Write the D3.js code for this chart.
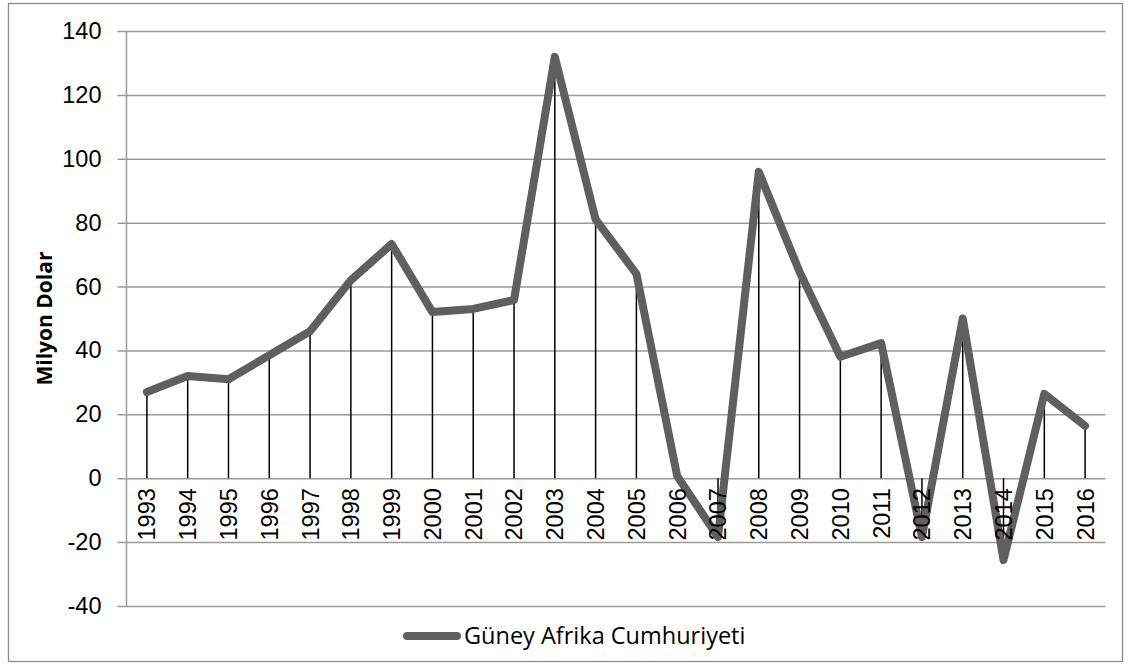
<!DOCTYPE html>
<html><head><meta charset="utf-8">
<script src="https://cdn.jsdelivr.net/npm/d3@7"></script>
<style>body{margin:0;background:#fff;} svg{display:block;font-family:"Open Sans",sans-serif;}</style>
</head><body>
<svg id="c" width="1131" height="666"></svg>
<script>
const years = ["1993","1994","1995","1996","1997","1998","1999","2000","2001","2002","2003","2004","2005","2006","2007","2008","2009","2010","2011","2012","2013","2014","2015","2016"];
const values = [27,32,31,38.5,46,62,73.3,52,53,55.8,131.9,81,64,0.7,-18.4,95.9,64.6,38,42.3,-18.4,50,-25.6,26.4,16.4];
const yTicks = [-40,-20,0,20,40,60,80,100,120,140];
const seriesName = "Güney Afrika Cumhuriyeti";
const yTitle = "Milyon Dolar";

const FS = 23.5;
const svg = d3.select("#c");
const m = {l:126.5, r:1105.5, t:31, b:606};
svg.append("rect").attr("x",8.5).attr("y",3.5).attr("width",1114).attr("height",658)
  .attr("fill","none").attr("stroke","#8c8c8c").attr("stroke-width",1.3);

const x = d3.scaleBand().domain(years).range([m.l,m.r]);
const y = d3.scaleLinear().domain([-40,140]).range([m.b,m.t]);

// gridlines + y ticks
const ya = d3.axisLeft(y).tickValues(yTicks).tickFormat(d=>String(d)).tickSize(-(m.r-m.l)).tickSizeOuter(0).tickPadding(25);
const gy = svg.append("g").attr("transform",`translate(${m.l},0)`).call(ya);
gy.select(".domain").remove();
gy.selectAll(".tick line").attr("stroke","#9a9a9a").attr("stroke-width",1.5).attr("x1",-9);
gy.selectAll(".tick text").attr("font-size",FS).attr("fill","#000");
svg.append("line").attr("x1",m.l).attr("x2",m.l).attr("y1",m.t).attr("y2",m.b).attr("stroke","#9a9a9a").attr("stroke-width",1.5);

// drop lines
svg.append("g").selectAll("line").data(values).join("line")
  .attr("x1",(d,i)=>x(years[i])+x.bandwidth()/2).attr("x2",(d,i)=>x(years[i])+x.bandwidth()/2)
  .attr("y1",d=>y(d)).attr("y2",y(0)).attr("stroke","#000").attr("stroke-width",1.5);

// line
const line = d3.line().x((d,i)=>x(years[i])+x.bandwidth()/2).y(d=>y(d));
svg.append("path").datum(values).attr("d",line).attr("fill","none").attr("stroke","#5f5f5f")
  .attr("stroke-width",8).attr("stroke-linejoin","round").attr("stroke-linecap","round");

// x labels (drawn over the line)
const xa = d3.axisBottom(x).tickSize(0).tickPadding(0);
const gx = svg.append("g").attr("transform",`translate(0,${y(0)})`).call(xa);
gx.select(".domain").remove();
gx.selectAll(".tick text").attr("font-size",FS).attr("fill","#000")
  .attr("transform","rotate(-90)").attr("text-anchor","end").attr("x",-10).attr("y",0).attr("dy","0.36em");

// y title
svg.append("text").attr("transform",`translate(52,${(m.t+m.b)/2}) rotate(-90)`).attr("text-anchor","middle")
  .attr("font-size",21).attr("font-weight","bold").text(yTitle);

// legend
svg.append("line").attr("x1",407).attr("x2",457).attr("y1",636).attr("y2",636).attr("stroke","#5f5f5f")
  .attr("stroke-width",8).attr("stroke-linecap","round");
svg.append("text").attr("x",464).attr("y",636).attr("dy","0.36em").attr("font-size",FS).text(seriesName);
</script>
</body></html>
